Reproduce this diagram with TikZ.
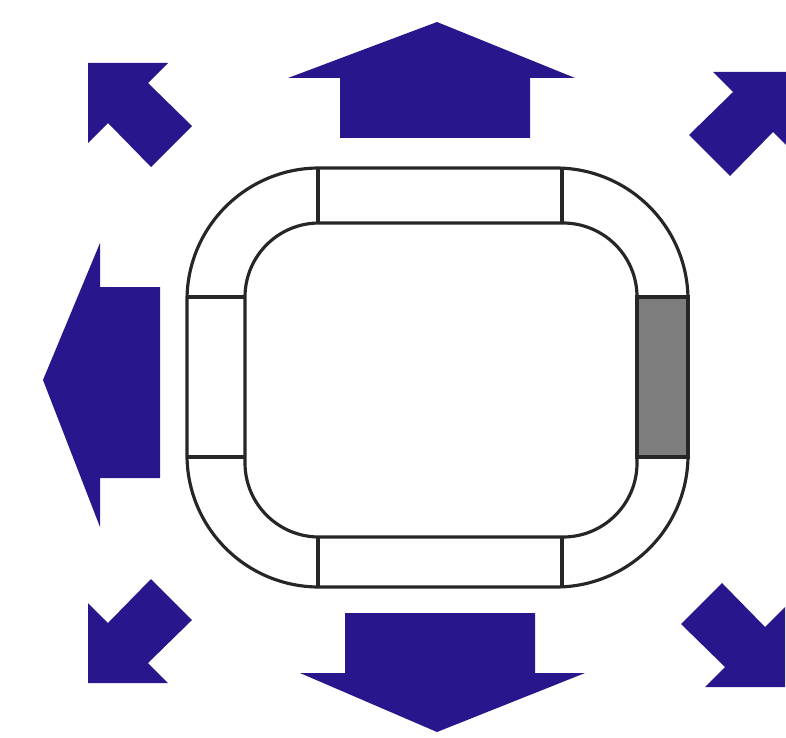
\documentclass[tikz,border=0pt]{standalone}
\usepackage{xcolor}
\usepackage{tikz}
\definecolor{arrowblue}{RGB}{40,22,140}
\definecolor{segmentgray}{RGB}{125,125,125}
\newcommand{\cornerarrow}[3]{%
  \fill[arrowshape, shift={(#1,#2)}, #3] (0,0) -- (80,0) -- (60,20) -- (104,63) -- (63,104) -- (20,60) -- (0,80) -- cycle;}

\begin{document}
\begin{tikzpicture}[
    x=0.01cm, y=-0.01cm,
    arrowshape/.style={fill=arrowblue},
    ring/.style={draw=black!85, line width=0.9pt},
    divider/.style={draw=black!85, line width=0.9pt},
    gatebox/.style={fill=segmentgray, draw=black!85, line width=0.9pt},
]
    \useasboundingbox (0,0) rectangle (786,737);
    \clip (0,0) rectangle (786,737);

    % Main arrows
    \fill[arrowshape] (437,22) -- (575,78) -- (530,78) -- (530,138) -- (340,138) -- (340,78) -- (288,78) -- cycle;
    \fill[arrowshape] (43,380) -- (100,243) -- (100,287) -- (160,287) -- (160,478) -- (100,478) -- (100,527) -- cycle;
    \fill[arrowshape] (437,732) -- (585,673) -- (535,673) -- (535,613) -- (345,613) -- (345,673) -- (300,673) -- cycle;

    % Corner arrows
    \cornerarrow{88}{63}{}
    \cornerarrow{793}{72}{xscale=-1}
    \cornerarrow{88}{683}{yscale=-1}
    \cornerarrow{785}{687}{xscale=-1, yscale=-1}

    % Gray segment
    \draw[gatebox] (637,297) rectangle (688,457);

    % Ring
    \draw[ring, rounded corners=1.32cm] (187,168) rectangle (688,587);
    \draw[ring, rounded corners=0.74cm] (245,223) rectangle (637,537);

    % Dividers
    \draw[divider] (318,168) -- (318,223);
    \draw[divider] (562,168) -- (562,223);
    \draw[divider] (318,537) -- (318,587);
    \draw[divider] (562,537) -- (562,587);
    \draw[divider] (187,297) -- (245,297);
    \draw[divider] (187,457) -- (245,457);

\end{tikzpicture}
\end{document}
